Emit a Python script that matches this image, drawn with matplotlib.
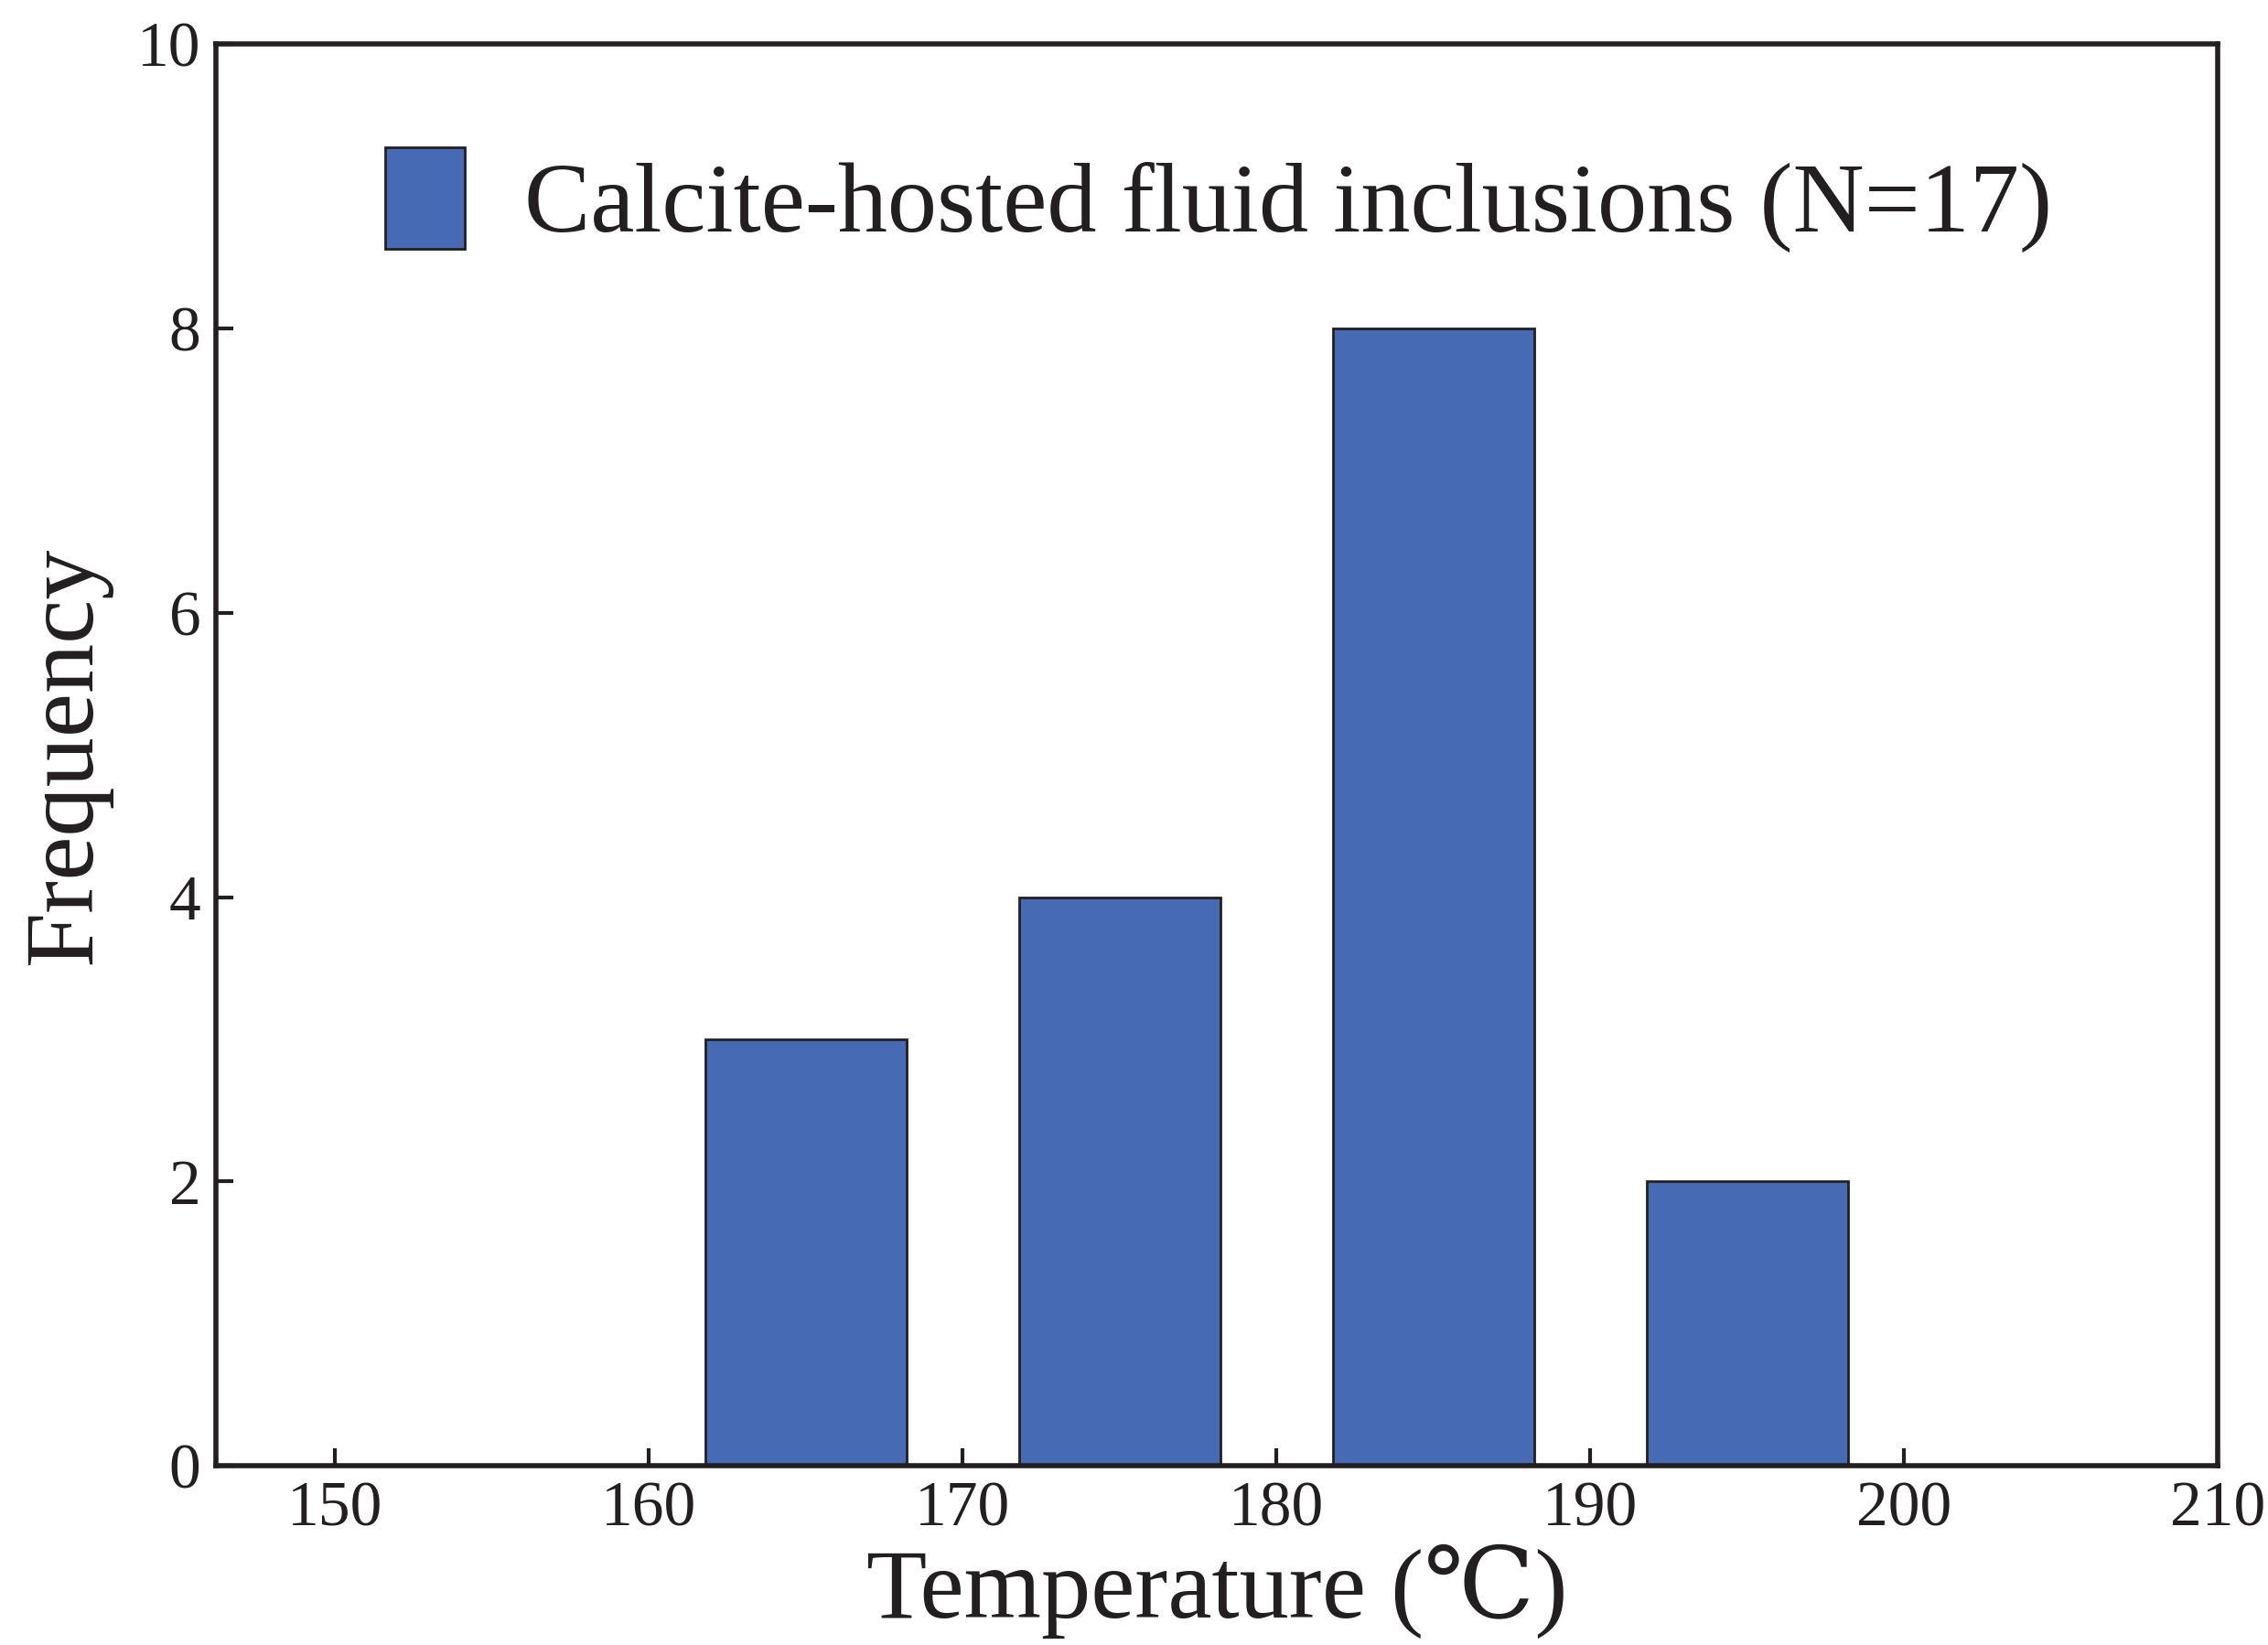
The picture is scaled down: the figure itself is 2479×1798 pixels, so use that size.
import matplotlib
matplotlib.use('Agg')
import matplotlib.pyplot as plt
from matplotlib.patches import Patch

plt.rcParams['font.family'] = ['Liberation Serif', 'DejaVu Serif']

temps = [165, 175, 185, 195]
counts = [3, 4, 8, 2]
xticks = [150, 160, 170, 180, 190, 200, 210]
yticks = [0, 2, 4, 6, 8, 10]

fig = plt.figure(figsize=(24.79, 17.98), dpi=100)
ax = fig.add_axes([147/1544, 1 - 998/1120, (1510-147)/1544, (998-30)/1120])
ink = '#231F20'
ax.bar(temps, counts, width=6.4, color='#466BB4', edgecolor=ink, linewidth=2)
ax.set_xlim(146.2, 210)
ax.set_ylim(0, 10)
ax.set_xticks(xticks)
ax.set_yticks(yticks)
ax.tick_params(direction='in', length=14, width=3, labelsize=50, colors=ink, pad=12)
ax.tick_params(top=False, right=False)
for s in ax.spines.values():
    s.set_linewidth(4)
    s.set_color(ink)
ax.set_xlabel('Temperature (℃)', fontsize=78, color=ink, labelpad=4)
ax.set_ylabel('Frequency', fontsize=78, color=ink, labelpad=20)
ax.legend(handles=[Patch(facecolor='#466BB4', edgecolor=ink, linewidth=2,
                         label='Calcite-hosted fluid inclusions (N=17)')],
          loc='upper left', bbox_to_anchor=(0.04, 0.99), frameon=False,
          fontsize=78, handlelength=0.8, handleheight=1.2, handletextpad=0.6,
          labelcolor=ink)
fig.savefig('out.png', dpi=100)
